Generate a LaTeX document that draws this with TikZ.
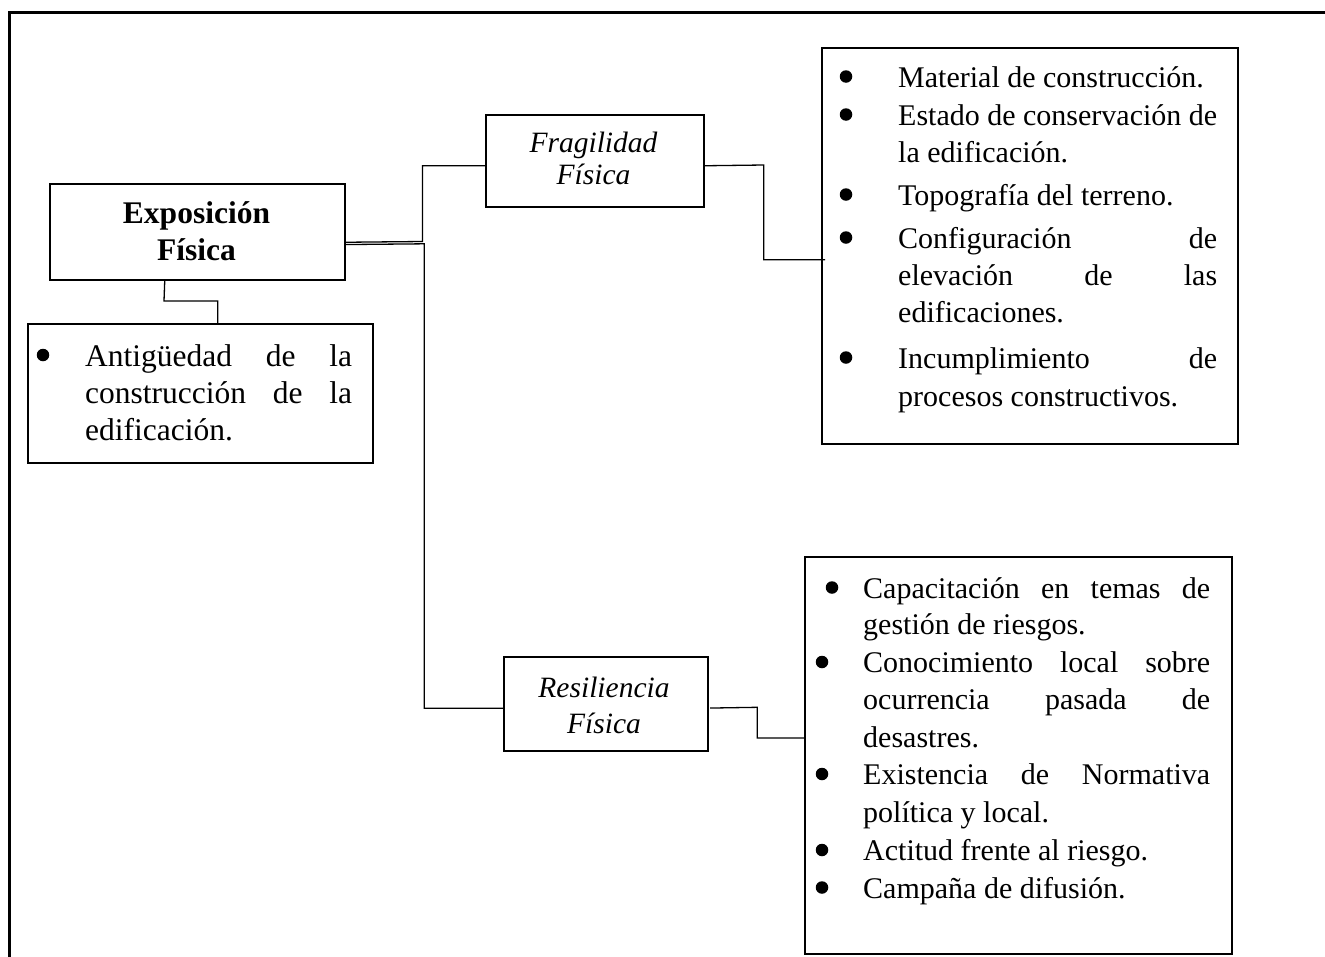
\documentclass[tikz,border=0pt]{standalone}
\usepackage{fontspec}
\setmainfont{Liberation Serif}
\usetikzlibrary{calc}
% a line of justified text spread to a given width
\newcommand\justline[2]{\makebox[#1][s]{#2}}
\begin{document}
\begin{tikzpicture}[x=1pt,y=-1pt,
  box/.style={draw, line width=1.5pt, inner sep=0pt, anchor=north west},
  link/.style={line width=1.3pt},
  frame/.style={line width=3pt},
  head/.style={anchor=base, inner sep=0pt, font=\fontsize{31.5}{37}\selectfont\bfseries},
  sub/.style={anchor=base, inner sep=0pt, font=\fontsize{29.5}{36}\selectfont\itshape},
  item/.style={anchor=base west, inner sep=0pt, font=\fontsize{30}{37}\selectfont},
  big item/.style={anchor=base west, inner sep=0pt, font=\fontsize{31.5}{37}\selectfont},
  dot/.style={circle, fill=black, inner sep=0pt, minimum size=12.5pt},
]
\useasboundingbox (0,0) rectangle (1325,956);
\clip (0,0) rectangle (1325,956);

% outer frame
\draw[frame] (9,12) rectangle (1345,980);

% boxes
\node[box, minimum width=295pt, minimum height=96pt]  (expo)  at (49,183)  {};
\node[box, minimum width=218pt, minimum height=92pt]  (fragi) at (485,114) {};
\node[box, minimum width=204pt, minimum height=94pt]  (resil) at (503,656) {};
\node[box, minimum width=416pt, minimum height=396pt] (flist) at (821,47)  {};
\node[box, minimum width=427pt, minimum height=397pt] (rlist) at (804,556) {};
\node[box, minimum width=345pt, minimum height=139pt] (anti)  at (27,323)  {};

% titles
\node[head] (expoA) at (196.5,223) {Exposición};
\node[head] (expoB) at (196.5,260) {Física};
\node[sub] (fragA) at (593.5,152) {Fragilidad};
\node[sub] (fragB) at (593.5,184) {Física};
\node[sub] (resA) at (604,697) {Resiliencia};
\node[sub] (resB) at (604,733) {Física};

% connectors
\draw[link] ($(expo.east)+(0,10.5)$) -- (422.5,241.5) |- ($(fragi.west)+(0,5)$);
\draw[link] ($(expo.east)+(0,12.8)$) -- (424.3,243.8) |- ($(resil.west)+(0,4.5)$);
\draw[link] ($(fragi.east)+(0,5)$) -- (763.7,165) |- ($(flist.west)+(4,14)$);
\draw[link] ($(resil.east)+(1.7,4.3)$) -- (757.3,707.3) |- ($(rlist.west)+(0,-17.2)$);
\draw[link] ($(expo.south)+(-32.5,0)$) -- (164,301) -| ($(anti.north)+(17.5,0)$);

% items under Fragilidad Fisica
\node[dot] (f1) at (846,76.5) {};
\node[item] (ft1) at (898,87) {Material de construcción.};
\node[dot] (f2) at (846,114.5) {};
\node[item] (ft2) at (898,125) {\justline{319pt}{Estado de conservación de}};
\node[item] (ft3) at (898,162) {la edificación.};
\node[dot] (f3) at (846,194.5) {};
\node[item] (ft4) at (898,205) {Topografía del terreno.};
\node[dot] (f4) at (846,237.5) {};
\node[item] (ft5) at (898,248) {\justline{319pt}{Configuración de}};
\node[item] (ft6) at (898,285) {\justline{319pt}{elevación de las}};
\node[item] (ft7) at (898,322) {edificaciones.};
\node[dot] (f5) at (846,357.5) {};
\node[item] (ft8) at (898,368) {\justline{319pt}{Incumplimiento de}};
\node[item] (ft9) at (898,406) {procesos constructivos.};

% items under Resiliencia Fisica
\node[dot] (r1) at (832,587.5) {};
\node[item] (rt1) at (863,598) {\justline{347pt}{Capacitación en temas de}};
\node[item] (rt2) at (863,634.5) {gestión de riesgos.};
\node[dot] (r2) at (822,662) {};
\node[item] (rt3) at (863,672.5) {\justline{347pt}{Conocimiento local sobre}};
\node[item] (rt4) at (863,709.5) {\justline{347pt}{ocurrencia pasada de}};
\node[item] (rt5) at (863,747) {desastres.};
\node[dot] (r3) at (822,774) {};
\node[item] (rt6) at (863,784.5) {\justline{347pt}{Existencia de Normativa}};
\node[item] (rt7) at (863,822) {política y local.};
\node[dot] (r4) at (822,850) {};
\node[item] (rt8) at (863,860.5) {Actitud frente al riesgo.};
\node[dot] (r5) at (822,887.5) {};
\node[item] (rt9) at (863,898) {Campaña de difusión.};

% item under Exposicion Fisica
\node[dot] (a1) at (43,355) {};
\node[big item] (at1) at (85,366) {\justline{267pt}{Antigüedad de la}};
\node[big item] (at2) at (85,403) {\justline{267pt}{construcción de la}};
\node[big item] (at3) at (85,440) {edificación.};
\end{tikzpicture}
\end{document}
